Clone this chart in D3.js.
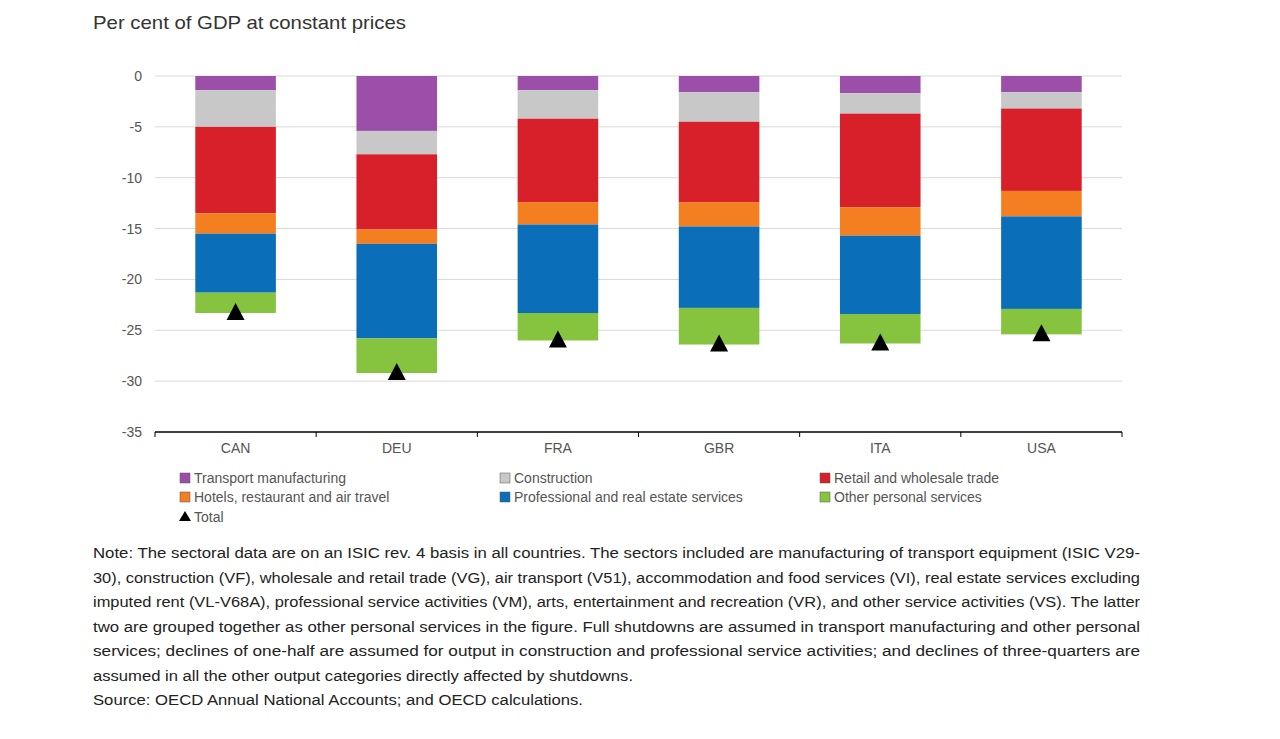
<!DOCTYPE html><html><head><meta charset="utf-8"><script src="https://cdn.jsdelivr.net/npm/d3@7"></script>
<style>body{margin:0;background:#fff;font-family:"Liberation Sans",Arial,sans-serif}</style></head><body><svg id="c" width="1280" height="739"></svg>
<script>
const countries=["CAN","DEU","FRA","GBR","ITA","USA"];
const sectors=["Transport manufacturing","Construction","Retail and wholesale trade","Hotels, restaurant and air travel","Professional and real estate services","Other personal services"];
const colors=["#9b4fa8","#c8c8c8","#d7202a","#f47f20","#0a6fb8","#86c440"];
const transport=[-1.4,-5.4,-1.4,-1.6,-1.7,-1.6];
const construction=[-3.6,-2.3,-2.8,-2.9,-2.0,-1.6];
const retail=[-8.5,-7.4,-8.2,-7.9,-9.2,-8.1];
const hotels=[-2.0,-1.4,-2.2,-2.4,-2.8,-2.5];
const professional=[-5.8,-9.3,-8.7,-8.0,-7.7,-9.1];
const other=[-2.0,-3.4,-2.7,-3.6,-2.9,-2.5];
const total=[-23.3,-29.2,-26.0,-26.4,-26.3,-25.4];
const yTicks=[0,-5,-10,-15,-20,-25,-30,-35];
const series=[transport,construction,retail,hotels,professional,other];
const svg=d3.select("#c");
const x=d3.scaleBand().domain(countries).range([155,1122]).paddingInner(0.5).paddingOuter(0.25);
const y=d3.scaleLinear().domain([0,-35]).range([76,432]);
svg.append("text").attr("x",93).attr("y",29).attr("font-size",19).attr("fill","#333").attr("textLength",313).attr("lengthAdjust","spacingAndGlyphs").text("Per cent of GDP at constant prices");
yTicks.forEach(t=>{
 if(t>-35)svg.append("line").attr("x1",155).attr("x2",1122).attr("y1",y(t)).attr("y2",y(t)).attr("stroke","#d9d9d9");
 svg.append("text").attr("x",142).attr("y",y(t)+5).attr("text-anchor","end").attr("font-size",14).attr("fill","#555").text(t);
});
countries.forEach((c,i)=>{
 let cum=0;
 series.forEach((s,j)=>{
  const top=cum,bot=cum+s[i];cum=bot;
  svg.append("rect").attr("x",x(c)).attr("width",x.bandwidth()).attr("y",y(top)).attr("height",y(bot)-y(top)).attr("fill",colors[j]);
 });
 const cx=x(c)+x.bandwidth()/2,ty=y(total[i]);
 svg.append("path").attr("d",`M${cx},${ty-10}L${cx+9},${ty+7}L${cx-9},${ty+7}Z`).attr("fill","#000");
 svg.append("text").attr("x",cx).attr("y",453).attr("text-anchor","middle").attr("font-size",14).attr("fill","#555").text(c);
});
svg.append("line").attr("x1",155).attr("x2",1122).attr("y1",432).attr("y2",432).attr("stroke","#000").attr("stroke-width",1.5);
for(let k=0;k<=6;k++){const tx=155+k*(967/6);svg.append("line").attr("x1",tx).attr("x2",tx).attr("y1",432).attr("y2",437).attr("stroke","#000");}
const lx=[180,500,820];
sectors.forEach((s,j)=>{
 const col=j%3,row=Math.floor(j/3),yy=479+row*19;
 svg.append("rect").attr("x",lx[col]).attr("y",yy-6).attr("width",10).attr("height",10).attr("fill",colors[j]).attr("stroke","#555").attr("stroke-width",0.5);
 svg.append("text").attr("x",lx[col]+14).attr("y",yy+4).attr("font-size",14).attr("fill","#555").text(s);
});
svg.append("path").attr("d","M185,511L191,521L179,521Z").attr("fill","#000");
svg.append("text").attr("x",194).attr("y",522).attr("font-size",14).attr("fill","#555").text("Total");
const note=["Note: The sectoral data are on an ISIC rev. 4 basis in all countries. The sectors included are manufacturing of transport equipment (ISIC V29-",
"30), construction (VF), wholesale and retail trade (VG), air transport (V51), accommodation and food services (VI), real estate services excluding",
"imputed rent (VL-V68A), professional service activities (VM), arts, entertainment and recreation (VR), and other service activities (VS). The latter",
"two are grouped together as other personal services in the figure. Full shutdowns are assumed in transport manufacturing and other personal",
"services; declines of one-half are assumed for output in construction and professional service activities; and declines of three-quarters are",
"assumed in all the other output categories directly affected by shutdowns.",
"Source: OECD Annual National Accounts; and OECD calculations."];
const lens=[1047,1047,1047,1047,1047,540,490];
note.forEach((t,i)=>svg.append("text").attr("x",93).attr("y",558+i*24.5).attr("font-size",15.5).attr("fill","#222").attr("textLength",lens[i]).attr("lengthAdjust","spacingAndGlyphs").text(t));
</script></body></html>
